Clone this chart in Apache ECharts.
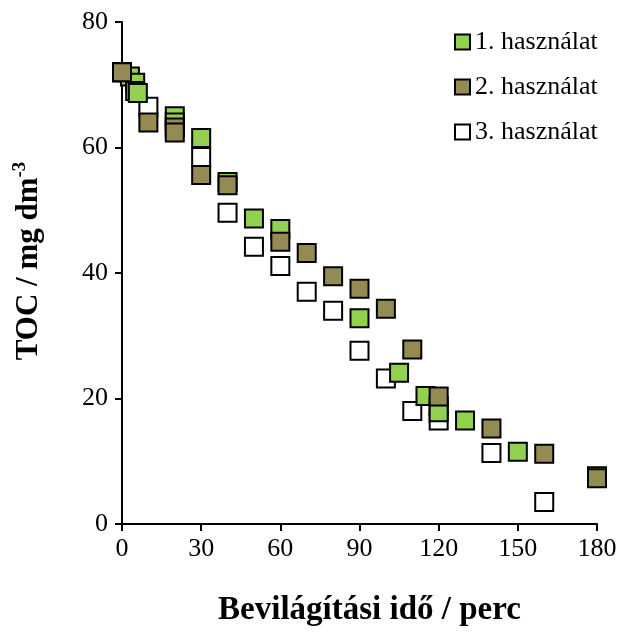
<!DOCTYPE html>
<html>
<head>
<meta charset="utf-8">
<script src="https://cdn.jsdelivr.net/npm/echarts@6/dist/echarts.min.js"></script>
<style>
  html, body { margin: 0; padding: 0; background: #fff; }
  #tocChart { width: 623px; height: 632px; }
</style>
</head>
<body>
<div id="tocChart"></div>
<script>
// adatok (x: perc, y: TOC mg/dm3)
var seriesNames = ['1. használat', '2. használat', '3. használat'];
var xTicks = [0, 30, 60, 90, 120, 150, 180];
var yTicks = [0, 20, 40, 60, 80];

var use1 = [
  [0, 72], [3, 71.3], [5, 70.3], [5, 69], [6, 68.7],
  [20, 65], [20, 64], [30, 61.5], [40, 54.5], [50, 48.7],
  [60, 47], [90, 32.8], [105, 24.1], [115, 20.4], [120, 18.8],
  [120, 17.8], [130, 16.5], [150, 11.5], [180, 7.6]
];
var use2 = [
  [0, 72], [10, 64], [20, 63.2], [20, 62.4], [30, 55.6],
  [40, 54], [60, 45], [70, 43.2], [80, 39.5], [90, 37.5],
  [100, 34.3], [110, 27.8], [120, 20.3], [140, 15.2], [160, 11.2],
  [180, 7.3]
];
var use3 = [
  [0, 72], [10, 66.5], [30, 58.5], [40, 49.6], [50, 44.2],
  [60, 41.1], [70, 37], [80, 34], [90, 27.6], [100, 23.2],
  [110, 18], [120, 16.5], [140, 11.3], [160, 3.5]
];

var colors = ['#92d050', '#948a54', '#ffffff'];
var font = '"Liberation Serif", "Times New Roman", serif';

var chart = echarts.init(document.getElementById('tocChart'));

function makeSeries (name, data, color, z) {
  return {
    name: name,
    type: 'scatter',
    data: data,
    symbol: 'rect',
    symbolSize: 18,
    z: z,
    itemStyle: {
      color: color,
      borderColor: '#000',
      borderWidth: 2,
      opacity: 1
    }
  };
}

var option = {
  backgroundColor: '#fff',
  animation: false,
  textStyle: { fontFamily: font },
  grid: { left: 122, right: 26, top: 22, bottom: 108 },
  legend: {
    orient: 'vertical',
    left: 449,
    top: 24,
    itemWidth: 15,
    itemHeight: 15,
    itemGap: 19,
    data: seriesNames,
    textStyle: { fontFamily: font, fontSize: 26, color: '#000' },
    itemStyle: { borderColor: '#000', borderWidth: 2 }
  },
  xAxis: {
    type: 'value',
    min: xTicks[0],
    max: xTicks[xTicks.length - 1],
    interval: 30,
    name: 'Bevilágítási idő / perc',
    nameLocation: 'middle',
    nameGap: 70,
    nameTextStyle: { fontFamily: font, fontSize: 33, fontWeight: 'bold', color: '#000', padding: [0, 0, 0, 20] },
    axisLine: { show: true, onZero: false, lineStyle: { color: '#000', width: 2 } },
    axisTick: { show: true, length: 7, lineStyle: { color: '#000', width: 2 } },
    axisLabel: { color: '#000', fontSize: 26, fontFamily: font, margin: 12 },
    splitLine: { show: false }
  },
  yAxis: {
    type: 'value',
    min: yTicks[0],
    max: yTicks[yTicks.length - 1],
    interval: 20,
    name: '{b|TOC / mg dm}{sup|-3}',
    nameLocation: 'middle',
    nameGap: 75,
    nameRotate: 90,
    nameTextStyle: {
      padding: [0, 0, 0, 24],
      rich: {
        b: { fontFamily: font, fontSize: 31, fontWeight: 'bold', color: '#000', lineHeight: 36 },
        sup: { fontFamily: font, fontSize: 19, fontWeight: 'bold', color: '#000', verticalAlign: 'top', lineHeight: 36, padding: [0, 0, 14, 0] }
      }
    },
    axisLine: { show: true, onZero: false, lineStyle: { color: '#000', width: 2 } },
    axisTick: { show: true, length: 7, lineStyle: { color: '#000', width: 2 } },
    axisLabel: { color: '#000', fontSize: 26, fontFamily: font, margin: 14 },
    splitLine: { show: false }
  },
  series: [
    makeSeries(seriesNames[2], use3, colors[2], 2),
    makeSeries(seriesNames[0], use1, colors[0], 3),
    makeSeries(seriesNames[1], use2, colors[1], 4)
  ]
};

chart.setOption(option);
</script>
</body>
</html>
